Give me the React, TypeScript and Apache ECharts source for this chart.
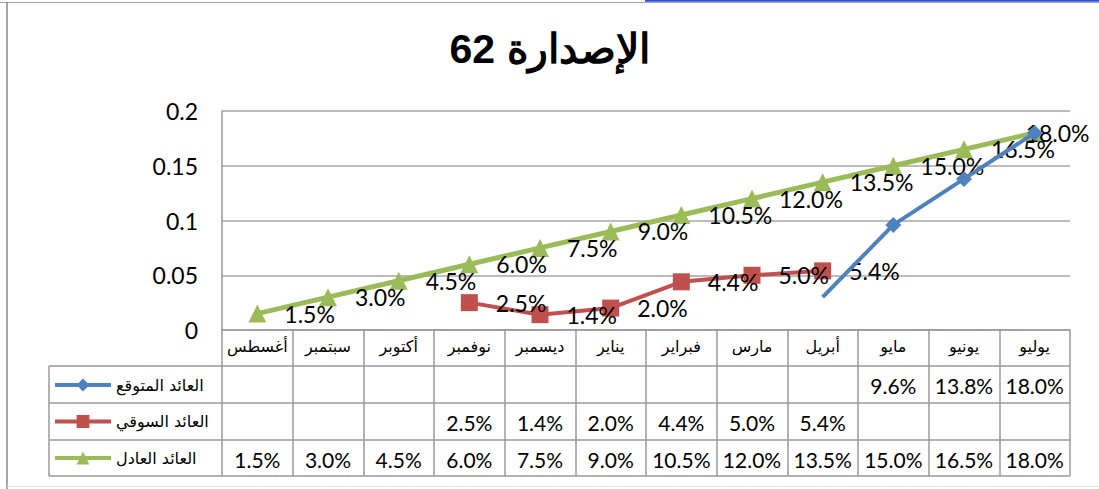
import React, { useEffect, useRef } from "react";
import * as echarts from "echarts";

const categories = ["أغسطس", "سبتمبر", "أكتوبر", "نوفمبر", "ديسمبر", "يناير", "فبراير", "مارس", "أبريل", "مايو", "يونيو", "يوليو"];
const seriesNames = ["العائد المتوقع", "العائد السوقي", "العائد العادل"];
const expected = [null, null, null, null, null, null, null, null, null, 0.096, 0.138, 0.18];
const expectedLead = [null, null, null, null, null, null, null, null, 0.03, 0.096, null, null];
const market = [null, null, null, 0.025, 0.014, 0.02, 0.044, 0.05, 0.054, null, null, null];
const fair = [0.015, 0.03, 0.045, 0.06, 0.075, 0.09, 0.105, 0.12, 0.135, 0.15, 0.165, 0.18];
const yTicks = [0, 0.05, 0.1, 0.15, 0.2];
const titleText = "الإصدارة 62";

const W = 1099;
const H = 489;
const GL = 222;
const GR = 1070;
const GT = 111;
const GB = 330;
const ROW_LINES = [366, 403, 440, 476];
const LEG_X = 49;
const BLUE = "#4F81BD";
const RED = "#C0504D";
const GREEN = "#9BBB59";
const BORDER = "#9a9a9a";
const NUM_FONT = "Lato";
const AR_FONT = "DejaVu Sans";

const pct = (v: number | null) => (v == null ? "" : (v * 100).toFixed(1) + "%");

export default function App() {
  const ref = useRef<HTMLDivElement>(null);
  useEffect(() => {
    if (!ref.current) return;
    const chart = echarts.init(ref.current, undefined, { renderer: "svg" });
    const colW = (GR - GL) / categories.length;
    const graphics: any[] = [];
    graphics.push({ type: "line", shape: { x1: 0, y1: 2.5, x2: W, y2: 2.5 }, style: { stroke: "#a6a6a6", lineWidth: 1 }, silent: true });
    graphics.push({ type: "line", shape: { x1: 645, y1: 0.8, x2: W, y2: 0.8 }, style: { stroke: "#2d4fd6", lineWidth: 2 }, silent: true });
    graphics.push({ type: "line", shape: { x1: 7, y1: 2, x2: 7, y2: H }, style: { stroke: "#8a8a8a", lineWidth: 1.5 }, silent: true });
    graphics.push({ type: "line", shape: { x1: 7, y1: 486.5, x2: W, y2: 486.5 }, style: { stroke: "#e2e2e2", lineWidth: 1 }, silent: true });
    ROW_LINES.forEach((y) => {
      graphics.push({ type: "line", shape: { x1: LEG_X, y1: y, x2: GR, y2: y }, style: { stroke: BORDER, lineWidth: 1.5 }, silent: true });
    });
    graphics.push({ type: "line", shape: { x1: LEG_X, y1: ROW_LINES[0], x2: LEG_X, y2: ROW_LINES[3] }, style: { stroke: BORDER, lineWidth: 1.5 }, silent: true });
    const rows = [expected, market, fair];
    rows.forEach((arr, r) => {
      const yc = (ROW_LINES[r] + ROW_LINES[r + 1]) / 2;
      arr.forEach((v, i) => {
        if (v == null) return;
        graphics.push({
          type: "text",
          x: GL + colW * (i + 0.5),
          y: yc + 1,
          style: { text: pct(v), fontFamily: NUM_FONT, fontSize: 21, fill: "#000", align: "center", verticalAlign: "middle" },
          silent: true,
        });
      });
    });

    const labelBase = {
      show: true,
      position: "right",
      distance: 18,
      fontFamily: NUM_FONT,
      fontSize: 23,
      color: "#000",
      formatter: (p: any) => pct(p.value),
    };

    const fairData = fair.map((v, i) =>
      i === fair.length - 1 ? { value: v, label: { offset: [-36, 0] } } : v
    );

    chart.setOption({
      animation: false,
      backgroundColor: "#fff",
      title: {
        text: titleText,
        left: "center",
        top: 23,
        textStyle: { fontFamily: "Liberation Sans", fontSize: 41, fontWeight: "bold", color: "#000" },
      },
      legend: {
        data: seriesNames,
        orient: "vertical",
        left: 53,
        top: 377,
        padding: 0,
        itemWidth: 56,
        itemHeight: 16,
        itemGap: 20.5,
        lineStyle: { width: 4 },
        textStyle: { fontFamily: AR_FONT, fontSize: 16, color: "#000", lineHeight: 16 },
      },
      grid: { left: GL, right: W - GR, top: GT, bottom: H - GB, containLabel: false },
      xAxis: {
        type: "category",
        data: categories,
        boundaryGap: true,
        axisLine: { show: true, lineStyle: { color: BORDER, width: 1.5 } },
        axisTick: { show: true, inside: false, length: ROW_LINES[3] - GB, alignWithLabel: false, lineStyle: { color: BORDER, width: 1.5 } },
        axisLabel: { interval: 0, margin: 8, fontFamily: AR_FONT, fontSize: 16, color: "#000" },
      },
      yAxis: {
        type: "value",
        min: yTicks[0],
        max: yTicks[yTicks.length - 1],
        interval: 0.05,
        axisLine: { show: true, lineStyle: { color: BORDER, width: 1.5 } },
        axisTick: { show: false },
        axisLabel: { margin: 24, fontFamily: NUM_FONT, fontSize: 23, color: "#000" },
        splitLine: { show: true, lineStyle: { color: "#a6a6a6", width: 1.5 } },
      },
      series: [
        {
          name: seriesNames[0],
          type: "line",
          data: expected,
          color: BLUE,
          lineStyle: { width: 4, color: BLUE },
          symbol: "diamond",
          symbolSize: 16,
          itemStyle: { color: BLUE },
          z: 3,
        },
        {
          name: "",
          type: "line",
          data: expectedLead,
          color: BLUE,
          lineStyle: { width: 4, color: BLUE },
          showSymbol: false,
          symbol: "none",
          z: 3,
        },
        {
          name: seriesNames[1],
          type: "line",
          data: market,
          color: RED,
          lineStyle: { width: 4, color: RED },
          symbol: "rect",
          symbolSize: 17,
          itemStyle: { color: RED },
          label: labelBase,
          z: 2,
        },
        {
          name: seriesNames[2],
          type: "line",
          data: fairData,
          color: GREEN,
          lineStyle: { width: 5, color: GREEN },
          symbol: "triangle",
          symbolSize: 18,
          itemStyle: { color: GREEN },
          label: labelBase,
          z: 2,
        },
      ],
      graphic: graphics,
    });
    return () => chart.dispose();
  }, []);
  return <div ref={ref} style={{ position: "fixed", left: 0, top: 0, width: W, height: H, background: "#fff" }} />;
}
